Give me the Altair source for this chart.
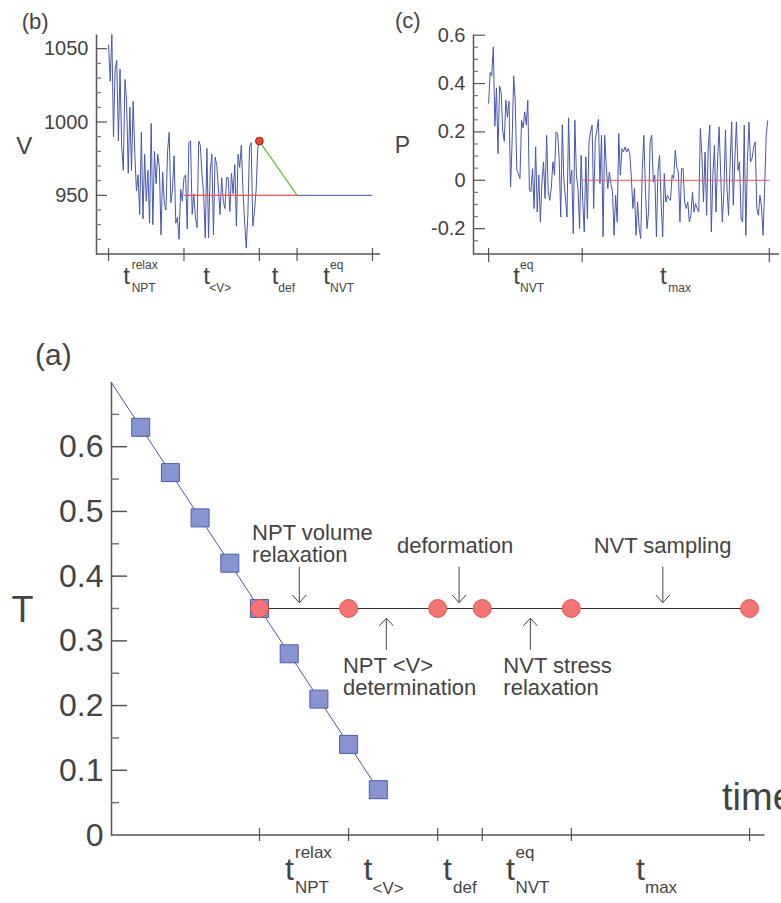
import altair as alt
import pandas as pd
import numpy as np

FONT = "Liberation Sans"
TXT = "#444444"
AX = "#555555"
BLUE = "#4757b2"
RED = "#ff4f4f"
GREEN = "#66bb33"

# ---------------- panel (a) data ----------------
sq_t = [1, 2, 3, 4, 5, 6, 7, 8, 9]
sq_T = [0.63, 0.56, 0.49, 0.42, 0.35, 0.28, 0.21, 0.14, 0.07]
cool_t = [0, 9]
cool_T = [0.70, 0.07]
circ_t = [5, 8, 11, 12.5, 15.5, 21.5]
circ_T = [0.35, 0.35, 0.35, 0.35, 0.35, 0.35]
a_ticks_t = [5, 8, 11, 12.5, 15.5, 21.5]
a_major = [0.1, 0.2, 0.3, 0.4, 0.5, 0.6]
a_minor = [0.05, 0.15, 0.25, 0.35, 0.45, 0.55, 0.65]
a_labels = [0, 0.1, 0.2, 0.3, 0.4, 0.5, 0.6]
down_t = [6.34, 11.72, 18.58]
up_t = [9.27, 14.12]

# ---------------- panel (b) data ----------------
V = [1052.7, 1027.8, 1059.7, 990, 1036, 1042, 987, 1036, 983, 967, 1029, 1014, 965,
     1010, 967, 1014, 979, 953, 964, 937, 993, 934, 978, 946, 967, 931, 999, 930,
     980, 958, 978, 969, 923, 966, 945, 940, 980, 993, 945, 954, 977, 931, 935, 920,
     954, 946, 962, 964, 927, 986, 987, 937, 951, 935, 928, 987, 984, 964, 951, 921,
     982, 921, 966, 978, 923, 976, 971, 955, 937, 962, 946, 941, 962, 962, 939, 965,
     951, 971, 929, 978, 969, 984, 953, 932, 914, 937, 983, 986, 929, 939, 953, 982, 987]
V_t = list(np.linspace(5, 11, len(V)))
b_ticks_t = [5, 8, 11, 12.5, 15.5]
b_major = [950, 1000, 1050]
b_minor = [920, 930, 940, 960, 970, 980, 990, 1010, 1020, 1030, 1040]

# ---------------- panel (c) data ----------------
P = [0.317, 0.446, 0.432, 0.552, 0.225, 0.382, 0.11, 0.39, 0.366, 0.207, 0.161, 0.331,
     0.262, 0.327, -0.028, 0.159, 0.432, 0.324, 0.041, 0.028, 0.007, 0.248, 0.217, 0.283,
     0.228, 0.331, -0.041, -0.048, 0.048, -0.117, 0.138, -0.131, 0.021, -0.172, -0.007,
     0.076, -0.076, 0.186, -0.048, -0.083, -0.028, 0.076, 0.021, 0.2, 0.193, 0.09, -0.152,
     0.23, 0, -0.073, -0.152, 0.258, -0.014, 0.041, -0.221, 0.248, 0.021, -0.034, -0.2,
     0.103, -0.083, -0.214, 0.097, -0.159, 0.159, 0.2, 0.228, -0.117, 0.166, 0.207, 0.252,
     -0.014, 0.186, -0.234, 0.186, 0.062, -0.034, 0.034, -0.014, -0.048, -0.228, -0.062,
     -0.172, 0.193, 0.021, 0.131, 0.117, 0.138, 0.117, 0.131, 0.11, 0.014, -0.117, -0.034,
     -0.228, -0.09, -0.2, -0.241, 0.048, 0.186, -0.041, -0.2, -0.131, 0.159, 0.186, -0.007,
     0.021, -0.234, 0.034, 0.103, -0.09, -0.234, 0.028, -0.09, -0.062, -0.076, -0.083,
     0.021, 0.007, 0.124, 0.055, 0.034, -0.172, 0.048, 0.048, -0.09, -0.117, -0.09, -0.172,
     -0.145, -0.048, -0.131, -0.097, -0.117, -0.131, 0.214, 0.103, -0.09, 0.117, -0.145,
     0.131, 0.228, -0.214, 0.021, 0.145, -0.131, 0.083, 0.221, 0.021, -0.172, -0.055, 0.207,
     -0.034, -0.145, 0.076, 0.241, -0.103, 0.083, 0.241, 0.041, 0.076, -0.159, -0.172,
     0.228, -0.228, 0.076, 0.241, 0.076, 0.09, 0.138, 0.159, -0.117, -0.145, -0.062, -0.11,
     -0.228, -0.034, 0.186, 0.248]
P_t = list(np.linspace(12.5, 21.45, len(P)))
c_ticks_t = [12.5, 15.5, 21.5]
c_major = [-0.2, 0, 0.2, 0.4, 0.6]
c_minor = [-0.25, -0.15, -0.1, -0.05, 0.05, 0.1, 0.15, 0.25, 0.3, 0.35, 0.45, 0.5, 0.55]

ONE = pd.DataFrame({"k": [0]})


def ptext(txt, x, y, size, align="left", color=TXT, clip=False):
    kw = dict(text=txt, align=align, baseline="alphabetic", font=FONT,
              fontSize=size, color=color)
    if clip:
        kw["clip"] = True
    return alt.Chart(ONE).mark_text(**kw).encode(x=alt.value(x), y=alt.value(y))


def tlabel(x, y, main_size, sub_size, sup=None, sub=None, dx=10, sup_dy=-22, sub_dy=13):
    out = [ptext("t", x, y, main_size)]
    if sup:
        out.append(ptext(sup, x + dx, y + sup_dy, sub_size))
    if sub:
        out.append(ptext(sub, x + dx, y + sub_dy, sub_size))
    return out


def yaxis(values, size, offset=0):
    expr = "datum.value < 0 ? '-' + format(-datum.value, '~g') : format(datum.value, '~g')"
    return alt.Axis(values=values, labelExpr=expr, ticks=False, grid=False, title=None,
                    domainColor=AX, domainWidth=1.5, labelFont=FONT, labelFontSize=size,
                    labelColor=TXT, labelPadding=8, offset=offset)


# ================= panel (a) =================
OX = 15          # the (a) y axis sits this many pixels right of the view's left edge
UA = 29.7        # pixels per time unit in (a)
WA, HA = 685, 453
xsA = alt.Scale(domain=[-OX / UA, (WA - OX) / UA], nice=False, zero=False)
ysA = alt.Scale(domain=[0, 0.7], nice=False, zero=False)
axA = yaxis(a_labels, 32, offset=-OX)


def XA(f="t"):
    return alt.X(f + ":Q", scale=xsA, axis=None)


def YA(f="T"):
    return alt.Y(f + ":Q", scale=ysA, axis=axA)


a_layers = []
a_layers.append(alt.Chart(pd.DataFrame({"T": a_major})).mark_rule(color=AX, strokeWidth=1.5)
                .encode(x=alt.value(OX), x2=alt.value(OX + 16), y=YA()))
a_layers.append(alt.Chart(pd.DataFrame({"T": a_minor})).mark_rule(color="#777777", strokeWidth=1.5)
                .encode(x=alt.value(OX), x2=alt.value(OX + 8), y=YA()))
a_layers.append(alt.Chart(pd.DataFrame({"t": [0], "t2": [22], "T": [0]})).mark_rule(color=AX, strokeWidth=1.5)
                .encode(x=XA(), x2="t2:Q", y=YA()))
a_layers.append(alt.Chart(pd.DataFrame({"t": a_ticks_t})).mark_rule(color=AX, strokeWidth=1.2)
                .encode(x=XA(), y=alt.value(HA - 7), y2=alt.value(HA + 6)))
a_layers.append(alt.Chart(pd.DataFrame({"t": cool_t, "T": cool_T})).mark_line(color=BLUE, strokeWidth=1)
                .encode(x=XA(), y=YA()))
a_layers.append(alt.Chart(pd.DataFrame({"t": sq_t, "T": sq_T}))
                .mark_square(size=324, color="#8794d0", stroke="#4d5cb5", strokeWidth=1, opacity=1)
                .encode(x=XA(), y=YA()))
a_layers.append(alt.Chart(pd.DataFrame({"t": [circ_t[0], circ_t[-1]], "T": [0.35, 0.35]}))
                .mark_line(color="#333333", strokeWidth=1.2).encode(x=XA(), y=YA()))
a_layers.append(alt.Chart(pd.DataFrame({"t": circ_t, "T": circ_T}))
                .mark_circle(size=320, color="#f47474", stroke="#ea4c4c", strokeWidth=1, opacity=1)
                .encode(x=XA(), y=YA()))
# arrows
dn = pd.DataFrame({"t": down_t, "T": [0.359] * 3, "T2": [0.4146] * 3})
upd = pd.DataFrame({"t": up_t, "T": [0.335] * 2, "T2": [0.286] * 2})
for d, shape in [(dn, "M-1,-1.1L0,0L1,-1.1"), (upd, "M-1,1.1L0,0L1,1.1")]:
    a_layers.append(alt.Chart(d).mark_rule(color="#444444", strokeWidth=1)
                    .encode(x=XA(), y=YA(), y2="T2:Q"))
    a_layers.append(alt.Chart(d).mark_point(shape=shape, filled=False, size=196, color="#444444",
                                            strokeWidth=1, opacity=1)
                    .encode(x=XA(), y=YA()))


def annot(lines, t, T):
    return (alt.Chart(pd.DataFrame({"t": [t], "T": [T]}))
            .mark_text(text=lines, align="left", baseline="alphabetic", font=FONT, fontSize=22,
                       color="#444444", lineHeight=22)
            .encode(x=XA(), y=YA()))


a_layers += [
    annot(["NPT volume", "relaxation"], 4.75, 0.4559),
    annot(["deformation"], 9.63, 0.4353),
    annot(["NVT sampling"], 16.25, 0.4353),
    annot(["NPT <V>", "determination"], 7.81, 0.2503),
    annot(["NVT stress", "relaxation"], 13.21, 0.2503),
]
# tick labels (a)
a_layers += tlabel(OX + 174, 498, 32, 17, sup="relax", sub="NPT", dx=10)
a_layers += tlabel(OX + 252.5, 498, 32, 17, sub="<V>", dx=9, sub_dy=14)
a_layers += tlabel(OX + 332, 498, 32, 17, sub="def", dx=10)
a_layers += tlabel(OX + 395, 498, 32, 17, sup="eq", sub="NVT", dx=9.5)
a_layers += tlabel(OX + 525, 498, 32, 17, sub="max", dx=9)
a_layers.append(ptext("time", OX + 611, 428, 38, clip=True))
a_layers.append(ptext("(a)", OX - 76, -16.6, 30))
a_layers.append(ptext("T", OX - 88.5, 239.7, 36, align="center"))

panel_a = alt.layer(*a_layers).properties(width=WA, height=HA)

# ================= panel (b) =================
WB, HB = 284, 220
xsB = alt.Scale(domain=[4.5, 15.8], nice=False, zero=False)
ysB = alt.Scale(domain=[910, 1060], nice=False, zero=False)
axB = yaxis(b_major, 20)


def XB(f="t"):
    return alt.X(f + ":Q", scale=xsB, axis=None)


def YB(f="V"):
    return alt.Y(f + ":Q", scale=ysB, axis=axB)


b_layers = [
    alt.Chart(pd.DataFrame({"V": b_major})).mark_rule(color=AX, strokeWidth=1.2)
    .encode(x=alt.value(0), x2=alt.value(11), y=YB()),
    alt.Chart(pd.DataFrame({"V": b_minor})).mark_rule(color="#777777", strokeWidth=1.2)
    .encode(x=alt.value(0), x2=alt.value(5), y=YB()),
    alt.Chart(ONE).mark_rule(color=AX, strokeWidth=1.5)
    .encode(x=alt.value(0), x2=alt.value(WB), y=alt.value(HB)),
    alt.Chart(pd.DataFrame({"t": b_ticks_t})).mark_rule(color=AX, strokeWidth=1.2)
    .encode(x=XB(), y=alt.value(HB - 6), y2=alt.value(HB + 7)),
    alt.Chart(pd.DataFrame({"t": V_t, "V": V})).mark_line(color=BLUE, strokeWidth=1)
    .encode(x=XB(), y=YB()),
    alt.Chart(pd.DataFrame({"t": [8, 12.5], "V": [950, 950]})).mark_line(color=RED, strokeWidth=1.2)
    .encode(x=XB(), y=YB()),
    alt.Chart(pd.DataFrame({"t": [12.5, 15.5], "V": [950, 950]})).mark_line(color=BLUE, strokeWidth=1)
    .encode(x=XB(), y=YB()),
    alt.Chart(pd.DataFrame({"t": [11, 12.5], "V": [987, 950]})).mark_line(color=GREEN, strokeWidth=1.2)
    .encode(x=XB(), y=YB()),
    alt.Chart(pd.DataFrame({"t": [11], "V": [987]}))
    .mark_circle(size=60, color="#ee4433", stroke="#992211", strokeWidth=1, opacity=1)
    .encode(x=XB(), y=YB()),
]
b_layers += tlabel(27.3, 249.7, 24, 12, sup="relax", sub="NPT", dx=8.4, sup_dy=-15, sub_dy=8.3)
b_layers += tlabel(107.3, 249.7, 24, 12, sub="<V>", dx=6, sub_dy=8.3)
b_layers += tlabel(175.7, 249.7, 24, 12, sub="def", dx=6.6, sub_dy=8.3)
b_layers += tlabel(227.3, 249.7, 24, 12, sup="eq", sub="NVT", dx=6.7, sup_dy=-15, sub_dy=8.3)
b_layers.append(ptext("(b)", -74.3, -5, 22))
b_layers.append(ptext("V", -71.8, 119.7, 24, align="center"))
panel_b = alt.layer(*b_layers).properties(width=WB, height=HB)

# ================= panel (c) =================
WC, HC = 306, 220
xsC = alt.Scale(domain=[12, 21.81], nice=False, zero=False)
ysC = alt.Scale(domain=[-0.305, 0.605], nice=False, zero=False)
axC = yaxis(c_major, 20)


def XC(f="t"):
    return alt.X(f + ":Q", scale=xsC, axis=None)


def YC(f="P"):
    return alt.Y(f + ":Q", scale=ysC, axis=axC)


c_layers = [
    alt.Chart(pd.DataFrame({"P": c_major})).mark_rule(color=AX, strokeWidth=1.2)
    .encode(x=alt.value(0), x2=alt.value(12), y=YC()),
    alt.Chart(pd.DataFrame({"P": c_minor})).mark_rule(color="#777777", strokeWidth=1.2)
    .encode(x=alt.value(0), x2=alt.value(5), y=YC()),
    alt.Chart(ONE).mark_rule(color=AX, strokeWidth=1.5)
    .encode(x=alt.value(0), x2=alt.value(WC), y=alt.value(HC)),
    alt.Chart(pd.DataFrame({"t": c_ticks_t})).mark_rule(color=AX, strokeWidth=1.2)
    .encode(x=XC(), y=alt.value(HC - 6), y2=alt.value(HC + 8)),
    alt.Chart(pd.DataFrame({"t": P_t, "P": P})).mark_line(color=BLUE, strokeWidth=1)
    .encode(x=XC(), y=YC()),
    alt.Chart(pd.DataFrame({"t": [15.5, 21.5], "P": [0, 0]})).mark_line(color=RED, strokeWidth=1.2)
    .encode(x=XC(), y=YC()),
]
c_layers += tlabel(40.3, 249.7, 24, 12, sup="eq", sub="NVT", dx=6.7, sup_dy=-15, sub_dy=8.3)
c_layers += tlabel(187, 249.7, 24, 12, sub="max", dx=8.3, sub_dy=8.3)
c_layers.append(ptext("(c)", -78, -6.5, 22))
c_layers.append(ptext("P", -70.5, 118.7, 23, align="center"))
panel_c = alt.layer(*c_layers).properties(width=WC, height=HC)

top = alt.hconcat(panel_b, panel_c, spacing=93, bounds="flush")
chart = (alt.vconcat(top, panel_a, spacing=47)
         .properties(padding={"left": 11, "top": 9, "right": 0, "bottom": 0})
         .configure_view(stroke=None))

chart.save("out.html", embed_options={"renderer": "svg", "actions": False})
